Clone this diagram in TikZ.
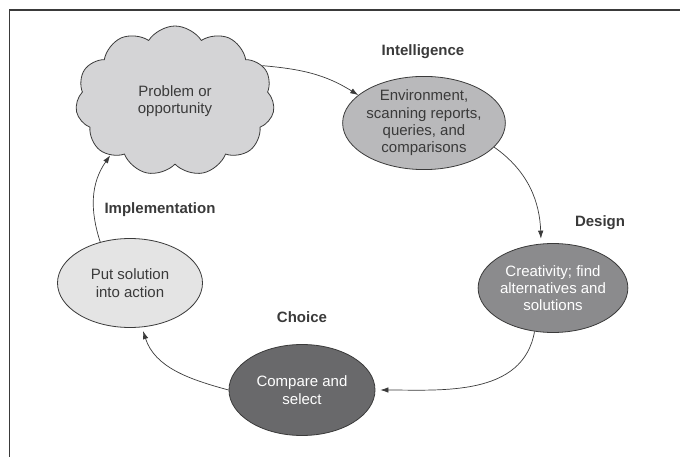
\documentclass[tikz,border=0pt]{standalone}
\usepackage{fontspec}
\setmainfont{Liberation Sans}
\usetikzlibrary{shapes.geometric, shapes.symbols, arrows.meta}

\definecolor{linegray}{HTML}{3A3A3A}
\definecolor{cloudgray}{HTML}{D4D4D6}
\definecolor{envgray}{HTML}{B9B9BB}
\definecolor{designgray}{HTML}{8B8B8D}
\definecolor{choicegray}{HTML}{69696B}
\definecolor{actiongray}{HTML}{E4E4E4}

\begin{document}
\begin{tikzpicture}[x=1pt, y=-1pt,
    phase/.style={ellipse, draw=linegray, line width=0.8pt, inner sep=0pt,
      minimum width=146pt, minimum height=89pt, align=center, text=linegray,
      font=\fontsize{15}{17.3}\selectfont},
    steplabel/.style={font=\bfseries\fontsize{15}{18}\selectfont, text=linegray},
    flow/.style={draw=linegray, line width=0.7pt, -{Latex[length=8pt,width=5.5pt]}}]
        \useasboundingbox (0,0) rectangle (680,457);

        % Kader
        \draw[linegray, line width=1.2pt] (9.5,457) -- (9.5,10) -- (680,10);

        % Wolk en fasen
        \node[cloud, cloud puffs=11, cloud puff arc=115, aspect=1.25, draw=linegray,
          line width=0.8pt, fill=cloudgray, minimum width=199pt, minimum height=150pt,
          align=center, text=linegray, font=\fontsize{15}{17.3}\selectfont]
          (problem) at (175,101) {Problem or\\opportunity};
        \node[phase, fill=envgray] (env) at (424,123)
          {Environment,\\scanning reports,\\queries, and\\comparisons};
        \node[phase, fill=designgray, text=white] (creat) at (553,288)
          {Creativity; find\\alternatives and\\solutions};
        \node[phase, fill=choicegray, text=white, minimum height=91pt] (compare) at (302,390)
          {Compare and\\select};
        \node[phase, fill=actiongray, minimum width=145pt] (put) at (130,283)
          {Put solution\\into action};

        % Fasenamen
        \node[steplabel] (intel) at (423,52) {Intelligence};
        \node[steplabel] (design) at (600,223) {Design};
        \node[steplabel] (choice) at (302,317) {Choice};
        \node[steplabel] (impl) at (160,210) {Implementation};

        % Pijlen
        \draw[flow] (problem.22) to[out=-5, in=148] (env.157);
        \draw[flow, shorten >=5pt] (env.-19) to[out=-35, in=92] (creat.105);
        \draw[flow, shorten >=5pt] (creat.-113) to[out=-100, in=0] (compare.east);
        \draw[flow, shorten >=4pt] (compare.west) to[out=165, in=-72] (put.-75);
        \draw[flow] (put.126) to[out=108, in=-125] (problem.-140);

    \end{tikzpicture}
\end{document}
